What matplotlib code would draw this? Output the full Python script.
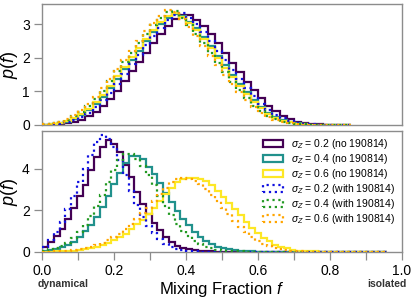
#!/usr/bin/env python3
"""
Mixing fraction posteriors for different sigma_Z, with and without GW190814.
"""

import matplotlib

matplotlib.use("Agg")
import matplotlib.pyplot as plt
import matplotlib.transforms as mtransforms
from matplotlib.patches import Patch
import numpy as np

OUTPUT_FIG = "out.png"

# top panel: histogram heights, bins of width TOP_BIN_WIDTH starting at f = 0
TOP_BIN_WIDTH = 0.02
top_s02_no = [0.0, 0.005, 0.02, 0.045, 0.09, 0.15, 0.27, 0.40, 0.58, 0.78, 1.02, 1.30, 1.60, 1.88, 2.15,
              2.44, 2.70, 2.95, 3.15, 3.27, 3.28, 3.12, 2.95, 2.70, 2.43, 2.15, 1.86, 1.57, 1.29, 1.03,
              0.79, 0.58, 0.41, 0.27, 0.17, 0.10, 0.05, 0.03, 0.015, 0.008, 0.004, 0.002, 0.001]
top_s04_no = [0.008, 0.025, 0.055, 0.10, 0.18, 0.30, 0.45, 0.63, 0.84, 1.09, 1.38, 1.67, 1.95, 2.22, 2.51,
              2.77, 3.01, 3.20, 3.32, 3.25, 3.08, 2.88, 2.63, 2.36, 2.07, 1.78, 1.50, 1.22, 0.97, 0.74,
              0.54, 0.37, 0.24, 0.15, 0.09, 0.05, 0.025, 0.013, 0.007, 0.004, 0.002, 0.001, 0.0]
top_s06_no = [0.012, 0.032, 0.065, 0.12, 0.21, 0.33, 0.49, 0.68, 0.90, 1.16, 1.45, 1.74, 2.02, 2.30, 2.57,
              2.83, 3.06, 3.25, 3.35, 3.22, 3.04, 2.83, 2.57, 2.29, 2.00, 1.71, 1.43, 1.16, 0.91, 0.69,
              0.50, 0.34, 0.22, 0.13, 0.075, 0.04, 0.022, 0.012, 0.006, 0.003, 0.002, 0.001, 0.0]
top_s02_with = [0.004, 0.016, 0.04, 0.08, 0.135, 0.24, 0.37, 0.55, 0.73, 0.96, 1.23, 1.52, 1.81, 2.08, 2.37,
                2.64, 2.89, 3.12, 3.28, 3.34, 3.18, 3.00, 2.77, 2.50, 2.22, 1.93, 1.64, 1.36, 1.10, 0.85,
                0.63, 0.45, 0.30, 0.20, 0.12, 0.07, 0.035, 0.02, 0.01, 0.005, 0.003, 0.002, 0.001]
top_s04_with = [0.02, 0.045, 0.09, 0.15, 0.27, 0.40, 0.58, 0.78, 1.02, 1.30, 1.60, 1.88, 2.15, 2.44, 2.72,
                2.98, 3.20, 3.36, 3.40, 3.20, 2.98, 2.72, 2.43, 2.15, 1.86, 1.57, 1.29, 1.03, 0.79, 0.58,
                0.41, 0.27, 0.17, 0.10, 0.05, 0.03, 0.015, 0.008, 0.004, 0.002, 0.001, 0.0, 0.0]
top_s06_with = [0.025, 0.055, 0.10, 0.18, 0.30, 0.45, 0.63, 0.84, 1.09, 1.38, 1.67, 1.95, 2.22, 2.51, 2.79,
                3.04, 3.26, 3.42, 3.36, 3.15, 2.92, 2.65, 2.36, 2.07, 1.78, 1.50, 1.22, 0.97, 0.74, 0.54,
                0.37, 0.24, 0.15, 0.09, 0.05, 0.025, 0.013, 0.007, 0.004, 0.002, 0.001, 0.0, 0.0]

# bottom panel
BOTTOM_BIN_WIDTH = 0.016
bot_s02_no = [0.22, 0.45, 0.75, 1.10, 1.60, 2.10, 2.70, 3.20, 3.95, 4.55, 5.05, 5.40, 5.20, 4.80, 4.20,
              3.60, 2.90, 2.30, 1.80, 1.40, 1.05, 0.70, 0.45, 0.30, 0.20, 0.13, 0.08, 0.05, 0.03, 0.02,
              0.012, 0.007, 0.004, 0.002, 0.001, 0.0, 0.0, 0.0, 0.0, 0.0, 0.0, 0.0, 0.0, 0.0, 0.0,
              0.0, 0.0, 0.0, 0.0, 0.0, 0.0, 0.0, 0.0, 0.0, 0.0, 0.0, 0.0, 0.0, 0.0, 0.0]
bot_s04_no = [0.05, 0.10, 0.15, 0.22, 0.33, 0.48, 0.72, 0.98, 1.30, 1.70, 2.15, 2.68, 3.25, 3.80, 4.30,
              4.60, 4.62, 4.50, 4.10, 3.75, 3.30, 2.85, 2.40, 1.95, 1.60, 1.27, 0.95, 0.70, 0.52, 0.37,
              0.25, 0.17, 0.11, 0.07, 0.045, 0.03, 0.02, 0.012, 0.008, 0.005, 0.003, 0.002, 0.001, 0.0, 0.0,
              0.0, 0.0, 0.0, 0.0, 0.0, 0.0, 0.0, 0.0, 0.0, 0.0, 0.0, 0.0, 0.0, 0.0, 0.0]
bot_s06_no = [0.0, 0.01, 0.02, 0.03, 0.04, 0.06, 0.09, 0.13, 0.18, 0.25, 0.33, 0.43, 0.55, 0.70, 0.88,
              1.08, 1.32, 1.55, 1.80, 2.10, 2.45, 2.80, 3.10, 3.35, 3.50, 3.56, 3.56, 3.52, 3.40, 3.20,
              2.95, 2.65, 2.35, 2.05, 1.75, 1.45, 1.15, 0.90, 0.68, 0.50, 0.35, 0.24, 0.16, 0.10, 0.06,
              0.04, 0.025, 0.015, 0.01, 0.006, 0.004, 0.002, 0.001, 0.0, 0.0, 0.0, 0.0, 0.0, 0.0, 0.0]
bot_s02_with = [0.25, 0.55, 0.95, 1.45, 2.05, 2.70, 3.35, 4.00, 4.65, 5.30, 5.62, 5.45, 5.05, 4.45, 3.70,
                2.95, 2.25, 1.70, 1.25, 0.90, 0.60, 0.38, 0.22, 0.13, 0.07, 0.04, 0.02, 0.01, 0.005, 0.003,
                0.002, 0.001, 0.0, 0.0, 0.0, 0.0, 0.0, 0.0, 0.0, 0.0, 0.0, 0.0, 0.0, 0.0, 0.0,
                0.0, 0.0, 0.0, 0.0, 0.0, 0.0, 0.0, 0.0, 0.0, 0.0, 0.0, 0.0, 0.0, 0.0, 0.0]
bot_s04_with = [0.06, 0.12, 0.18, 0.28, 0.42, 0.65, 0.95, 1.30, 1.72, 2.20, 2.75, 3.35, 3.95, 4.45, 4.72,
                4.72, 4.50, 4.15, 3.70, 3.20, 2.70, 2.20, 1.75, 1.35, 1.02, 0.75, 0.53, 0.37, 0.25, 0.16,
                0.10, 0.06, 0.04, 0.025, 0.015, 0.01, 0.006, 0.004, 0.002, 0.001, 0.0, 0.0, 0.0, 0.0, 0.0,
                0.0, 0.0, 0.0, 0.0, 0.0, 0.0, 0.0, 0.0, 0.0, 0.0, 0.0, 0.0, 0.0, 0.0, 0.0]
bot_s06_with = [0.0, 0.01, 0.02, 0.03, 0.05, 0.08, 0.12, 0.17, 0.24, 0.32, 0.42, 0.55, 0.70, 0.88, 1.10,
                1.35, 1.60, 1.85, 2.12, 2.45, 2.80, 3.10, 3.35, 3.50, 3.56, 3.52, 3.42, 3.25, 3.02, 2.75,
                2.45, 2.12, 1.80, 1.50, 1.20, 0.94, 0.72, 0.54, 0.39, 0.27, 0.18, 0.12, 0.075, 0.045, 0.028,
                0.017, 0.01, 0.006, 0.003, 0.002, 0.001, 0.0, 0.0, 0.0, 0.0, 0.0, 0.0, 0.0, 0.0, 0.0]

SIGMAS = ["0.2", "0.4", "0.6"]
SOLID_COLORS = ["#440154", "#21918c", "#fde725"]
DOTTED_COLORS = ["#1010e0", "#229922", "#ffa500"]

SPINE_COLOR = "#8c8c8c"
TICK_FONTSIZE = 10
LABEL_FONTSIZE = 12
LEGEND_FONTSIZE = 7.5
LW = 1.6


def style_axis(ax):
    for sp in ax.spines.values():
        sp.set_color(SPINE_COLOR)
        sp.set_linewidth(1.0)
    ax.tick_params(axis="both", which="both", direction="out", color=SPINE_COLOR,
                   length=6, width=0.9, labelsize=TICK_FONTSIZE, pad=3)


def main() -> None:
    plt.rcParams["font.family"] = ["Liberation Sans", "DejaVu Sans"]
    plt.rcParams["mathtext.fontset"] = "custom"
    plt.rcParams["mathtext.rm"] = "Liberation Sans"
    plt.rcParams["mathtext.it"] = "Liberation Sans:italic"

    fig = plt.figure(figsize=(4.15, 2.99), dpi=100)
    ax1 = fig.add_axes([0.102, 0.582, 0.866, 0.405])
    ax2 = fig.add_axes([0.102, 0.158, 0.866, 0.404])

    top_solid = [top_s02_no, top_s04_no, top_s06_no]
    top_dotted = [top_s02_with, top_s04_with, top_s06_with]
    bot_solid = [bot_s02_no, bot_s04_no, bot_s06_no]
    bot_dotted = [bot_s02_with, bot_s04_with, bot_s06_with]

    for ax, solid, dotted, width in [
        (ax1, top_solid, top_dotted, TOP_BIN_WIDTH),
        (ax2, bot_solid, bot_dotted, BOTTOM_BIN_WIDTH),
    ]:
        for vals, col in zip(solid, SOLID_COLORS):
            edges = np.arange(len(vals) + 1) * width
            ax.stairs(vals, edges, color=col, lw=LW, baseline=None, zorder=2)
        for vals, col in zip(dotted, DOTTED_COLORS):
            edges = np.arange(len(vals) + 1) * width
            ax.stairs(vals, edges, color=col, lw=LW, ls=":", baseline=None, zorder=3)
        ax.set_xlim(0, 1)
        style_axis(ax)
        ax.set_ylabel(r"$p(f)$", fontsize=LABEL_FONTSIZE + 1)
        ax.yaxis.set_label_coords(-0.062, 0.5)

    ax1.set_ylim(0, 3.61)
    ax1.set_yticks([0, 1, 2, 3])
    ax1.tick_params(axis="x", which="both", length=0, labelbottom=False)

    ax2.set_ylim(0, 5.83)
    ax2.set_yticks([0, 2, 4])
    ax2.set_xticks(np.arange(0, 1.01, 0.2))
    ax2.set_xticks(np.arange(0.1, 1.0, 0.2), minor=True)
    ax2.set_xticklabels([f"{v:.1f}" for v in np.arange(0, 1.01, 0.2)])
    ax2.set_xlabel(r"Mixing Fraction $f$", fontsize=LABEL_FONTSIZE, labelpad=1)

    # legend shows outlined boxes, like step histograms
    handles = []
    for col, s in zip(SOLID_COLORS, SIGMAS):
        handles.append(Patch(facecolor="none", edgecolor=col, lw=LW,
                             label=rf"$\sigma_Z$ = {s} (no 190814)"))
    for col, s in zip(DOTTED_COLORS, SIGMAS):
        handles.append(Patch(facecolor="none", edgecolor=col, lw=LW, ls=":",
                             label=rf"$\sigma_Z$ = {s} (with 190814)"))
    ax2.legend(handles=handles, loc="upper right", bbox_to_anchor=(1.0, 1.0), frameon=False,
               fontsize=LEGEND_FONTSIZE, handlelength=1.9, handleheight=0.6,
               labelspacing=0.1, handletextpad=0.8, borderaxespad=0.3, borderpad=0.3)

    trans = mtransforms.blended_transform_factory(ax2.transData, fig.transFigure)
    ax2.text(-0.014, 0.05, "dynamical", transform=trans, ha="left", va="center",
             fontsize=7.5, fontweight="bold", color="#333333")
    ax2.text(1.015, 0.05, "isolated", transform=trans, ha="right", va="center",
             fontsize=7.5, fontweight="bold", color="#333333")

    fig.savefig(OUTPUT_FIG, dpi=100)
    plt.close(fig)


if __name__ == "__main__":
    main()
